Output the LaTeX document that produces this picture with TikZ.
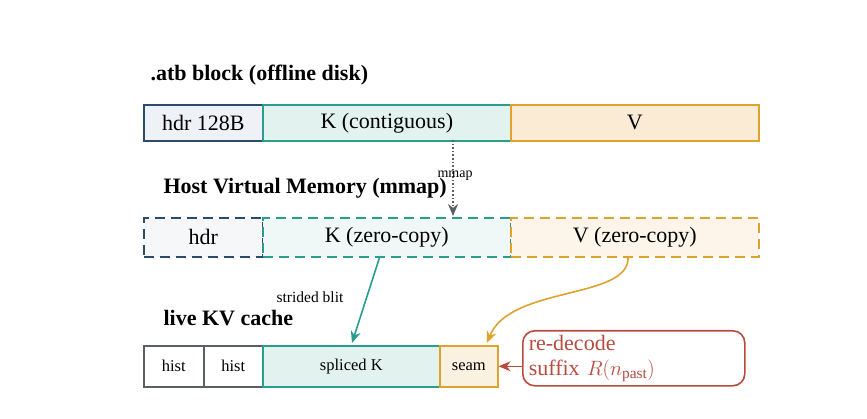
\documentclass[tikz,border=0pt]{standalone}
\usepackage{fontspec}
\setmainfont{Liberation Serif}
\usetikzlibrary{arrows.meta}
\definecolor{hb}{HTML}{2C4A6B}\definecolor{hbf}{HTML}{EEF1F5}
\definecolor{tk}{HTML}{2A9D8F}\definecolor{tkf}{HTML}{E2F2EF}
\definecolor{gd}{HTML}{E0A22E}\definecolor{gdf}{HTML}{FBEBD4}
\definecolor{rd}{HTML}{B84A3E}\definecolor{gy}{HTML}{5A5F66}
\begin{document}
\begin{tikzpicture}[x=1pt,y=-1pt,
 cell/.style={draw,line width=1.6pt,minimum height=#1,inner sep=0pt,anchor=north west,font=\fontsize{22}{24}\selectfont},
 small/.style={font=\fontsize{16.5}{18}\selectfont},
 ttl/.style={anchor=base west,font=\fontsize{22}{24}\selectfont\bfseries},
 dsh/.style={dash pattern=on 10pt off 6pt},
 arr/.style={-{Stealth[length=12pt,width=10pt]},line width=1.6pt}]
\useasboundingbox (0,0) rectangle (867,419);
\node[ttl] (t1) at (147,81) {.atb block (offline disk)};
\node[cell=36pt,minimum width=119pt,hb,fill=hbf,text=black] (h1) at (143,104) {hdr 128B};
\node[cell=36pt,minimum width=248pt,tk,fill=tkf,text=black] (k1) at (262,104) {K (contiguous)};
\node[cell=36pt,minimum width=248pt,gd,fill=gdf,text=black] (v1) at (510,104) {V};
\node[ttl] (t2) at (160,194) {Host Virtual Memory (mmap)};
\node[cell=39pt,minimum width=119pt,hb,fill=hbf!60,dsh,text=black] (h2) at (143,217) {hdr};
\node[cell=39pt,minimum width=248pt,tk,fill=tkf!50,dsh,text=black] (k2) at (262,217) {K (zero-copy)};
\node[cell=39pt,minimum width=248pt,gd,fill=gdf!50,dsh,text=black] (v2) at (510,217) {V (zero-copy)};
\node[ttl] (t3) at (160,326) {live KV cache};
\node[cell=41pt,minimum width=60pt,gy,fill=white,text=black,small] (a) at (143,345) {hist};
\node[cell=41pt,minimum width=59pt,gy,fill=white,text=black,small] (b) at (203,345) {hist};
\node[cell=41pt,minimum width=177pt,tk,fill=tkf,text=black,small] (s) at (262,345) {spliced K};
\node[cell=41pt,minimum width=58pt,gd,fill=gdf!80!gd!40,text=black,small] (m) at (439,345) {seam};
\node[draw=rd,line width=1.6pt,rounded corners=12pt,text=rd,align=left,anchor=north west,text width=210pt,inner xsep=6pt,minimum height=55pt,font=\fontsize{22}{25}\selectfont] (r) at (522,330) {re-decode\\suffix $R(n_{\mathrm{past}})$};
\coordinate (p1) at (453,140);\coordinate (p2) at (453,216);
\draw[arr,gy,dotted] (p1) -- (p2);
\node[font=\fontsize{14}{16}\selectfont] (mm) at (455,176) {mmap};
\coordinate (q1) at (380,256);\coordinate (q2) at (352,343);
\draw[arr,tk] (q1) -- (q2);
\node[font=\fontsize{15.5}{17}\selectfont] (sb) at (310,297) {strided blit};
\coordinate (g1) at (628,256);\coordinate (g2) at (487,343);
\draw[arr,gd] (g1) .. controls (632,300) and (510,285) .. (g2);
\draw[arr,rd] (r.west|-m.east) -- (m.east);
\end{tikzpicture}
\end{document}
